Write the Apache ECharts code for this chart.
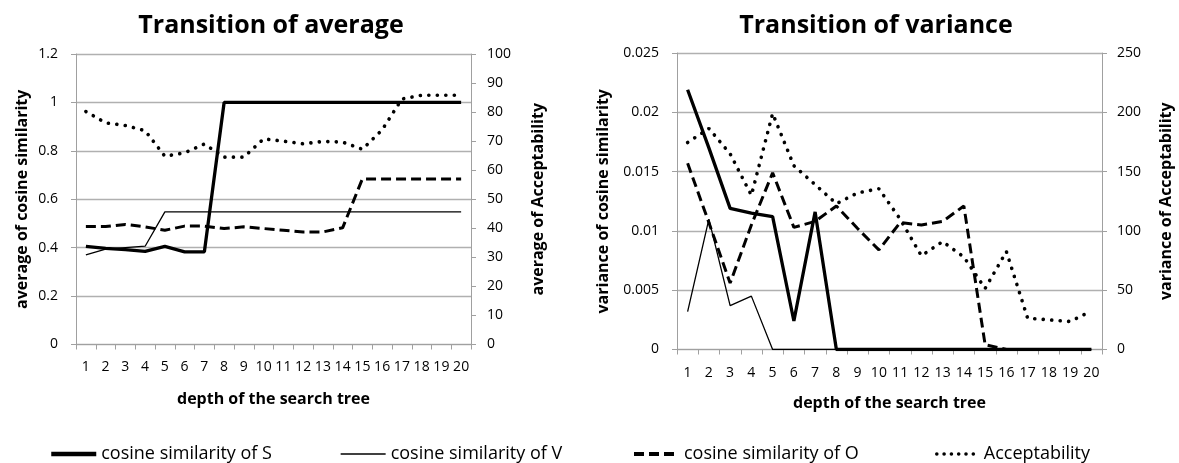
<!DOCTYPE html>
<html>
<head>
<meta charset="utf-8">
<script src="https://cdn.jsdelivr.net/npm/echarts@6/dist/echarts.min.js"></script>
<style>
html,body{margin:0;padding:0;background:#fff;}
#chart{width:1179px;height:463px;}
</style>
</head>
<body>
<div id="chart"></div>
<script>
// ---- data ----
const depth = ['1','2','3','4','5','6','7','8','9','10','11','12','13','14','15','16','17','18','19','20'];
// Transition of average
const avgS   = [0.405, 0.397, 0.392, 0.385, 0.405, 0.383, 0.383, 1, 1, 1, 1, 1, 1, 1, 1, 1, 1, 1, 1, 1];
const avgV   = [0.370, 0.394, 0.400, 0.406, 0.548, 0.548, 0.548, 0.548, 0.548, 0.548, 0.548, 0.548, 0.548, 0.548, 0.548, 0.548, 0.548, 0.548, 0.548, 0.548];
const avgO   = [0.487, 0.487, 0.496, 0.486, 0.472, 0.489, 0.489, 0.479, 0.486, 0.479, 0.472, 0.465, 0.465, 0.482, 0.684, 0.684, 0.684, 0.684, 0.684, 0.684];
const avgAcc = [80.2, 76.3, 75.4, 73.6, 64.8, 66.0, 69.0, 64.5, 64.5, 70.8, 70.0, 69.1, 69.9, 69.7, 67.2, 73.9, 84.5, 85.8, 85.8, 85.8];
// Transition of variance
const varS   = [0.0219, 0.0170, 0.0119, 0.0115, 0.0112, 0.0024, 0.0116, 0, 0, 0, 0, 0, 0, 0, 0, 0, 0, 0, 0, 0];
const varV   = [0.0032, 0.0110, 0.0037, 0.0045, 0, 0, 0, 0, 0, 0, 0, 0, 0, 0, 0, 0, 0, 0, 0, 0];
const varO   = [0.0157, 0.0107, 0.0056, 0.0105, 0.0149, 0.0103, 0.0108, 0.0121, 0.0102, 0.0084, 0.0107, 0.0105, 0.0108, 0.0121, 0.0004, 0, 0, 0, 0, 0];
const varAcc = [174.5, 186.4, 165, 130, 199, 155, 139, 123, 132, 135.6, 110, 79, 91, 78, 51.5, 82.6, 26.4, 25, 23.6, 32.5];
// tick settings
const avgTicks = {min: 0, max: 1.2, interval: 0.2};
const avgAccTicks = {min: 0, max: 100, interval: 10};
const varTicks = {min: 0, max: 0.025, interval: 0.005};
const varAccTicks = {min: 0, max: 250, interval: 50};
const names = ['cosine similarity of S', 'cosine similarity of V', 'cosine similarity of O', 'Acceptability'];

// ---- styles ----
const FONT = "'Open Sans', 'DejaVu Sans', sans-serif";
const AX = '#a0a0a0';
const GRID = '#b0b0b0';
const lineS = {color: '#000', width: 3.3, type: 'solid'};
const lineV = {color: '#000', width: 1.3, type: 'solid'};
const lineO = {color: '#000', width: 3, type: [10, 5], cap: 'butt'};
const lineA = {color: '#000', width: 3.6, type: [0.1, 8.4], cap: 'round'};
const legendLines = [
  {color: '#000', width: 4.5, type: 'solid'},
  {color: '#000', width: 1.3, type: 'solid'},
  {color: '#000', width: 4, type: [10, 5], cap: 'butt'},
  {color: '#000', width: 3.5, type: [0.1, 7.2], cap: 'round', dashOffset: -3}
];

function xAxis(gridIndex, gap, lm) {
  return {
    type: 'category', gridIndex, data: depth, boundaryGap: true,
    name: 'depth of the search tree', nameLocation: 'middle', nameGap: gap,
    nameTextStyle: {fontFamily: FONT, fontSize: 16, fontWeight: 'bold', color: '#000'},
    axisLine: {show: true, lineStyle: {color: AX, width: 1}},
    axisTick: {show: true, interval: 0, alignWithLabel: false, length: 5, lineStyle: {color: AX}},
    axisLabel: {interval: 0, margin: lm, fontFamily: FONT, fontSize: 14, color: '#000'},
    splitLine: {show: false}
  };
}
function yAxis(gridIndex, ticks, name, gap, pos, split, fmt, lmargin) {
  return {
    type: 'value', gridIndex, position: pos,
    min: ticks.min, max: ticks.max, interval: ticks.interval,
    name, nameLocation: 'middle', nameGap: gap,
    nameTextStyle: {fontFamily: FONT, fontSize: 16, fontWeight: 'bold', color: '#000'},
    axisLine: {show: true, lineStyle: {color: AX, width: 1}},
    axisTick: {show: true, length: 5, lineStyle: {color: AX}},
    axisLabel: {margin: lmargin, fontFamily: FONT, fontSize: 14, color: '#000', formatter: fmt},
    splitLine: {show: split, lineStyle: {color: GRID, width: 1.3}}
  };
}
const fmt3 = v => String(+v.toFixed(3));
const fmt1 = v => String(+v.toFixed(1));
const fmt0 = v => String(Math.round(v));

function ser(name, data, xi, yi, ls, z) {
  return {name, type: 'line', data, xAxisIndex: xi, yAxisIndex: yi, symbol: 'none', showSymbol: false,
          lineStyle: ls, itemStyle: {color: '#000'}, z: z, silent: true, animation: false};
}

const legendLefts = [44, 335, 627, 927];
const legends = names.map((n, i) => ({
  data: [n], left: legendLefts[i], top: 440, itemWidth: 45, itemHeight: 14, itemGap: 5,
  textStyle: {fontFamily: FONT, fontSize: 18, color: '#000'},
  itemStyle: {opacity: 0, borderWidth: 0},
  lineStyle: legendLines[i],
  selectedMode: false
}));

const option = {
  animation: false,
  title: [
    {text: 'Transition of average', left: 266, top: 8, textAlign: 'center',
     textStyle: {fontFamily: FONT, fontSize: 25, fontWeight: 'bold', color: '#000'}},
    {text: 'Transition of variance', left: 871, top: 8, textAlign: 'center',
     textStyle: {fontFamily: FONT, fontSize: 25, fontWeight: 'bold', color: '#000'}}
  ],
  legend: legends,
  grid: [
    {left: 76, right: 708, top: 54, bottom: 118.5, containLabel: false},
    {left: 677, right: 77, top: 53, bottom: 113.5, containLabel: false}
  ],
  xAxis: [xAxis(0, 47, 16), xAxis(1, 46, 17)],
  yAxis: [
    yAxis(0, avgTicks, 'average of cosine similarity', 46, 'left', true, fmt1, 18),
    yAxis(0, avgAccTicks, 'average of Acceptability', 59, 'right', false, fmt0, 16),
    yAxis(1, varTicks, 'variance of cosine similarity', 66, 'left', true, fmt3, 18),
    yAxis(1, varAccTicks, 'variance of Acceptability', 56, 'right', false, fmt0, 15)
  ],
  series: [
    ser(names[0], avgS, 0, 0, lineS, 5),
    ser(names[1], avgV, 0, 0, lineV, 4),
    ser(names[2], avgO, 0, 0, lineO, 3),
    ser(names[3], avgAcc, 0, 1, lineA, 2),
    ser(names[0], varS, 1, 2, lineS, 5),
    ser(names[1], varV, 1, 2, lineV, 4),
    ser(names[2], varO, 1, 2, lineO, 3),
    ser(names[3], varAcc, 1, 3, lineA, 2)
  ]
};
const chart = echarts.init(document.getElementById('chart'), null, {renderer: 'canvas'});
chart.setOption(option);
</script>
</body>
</html>
